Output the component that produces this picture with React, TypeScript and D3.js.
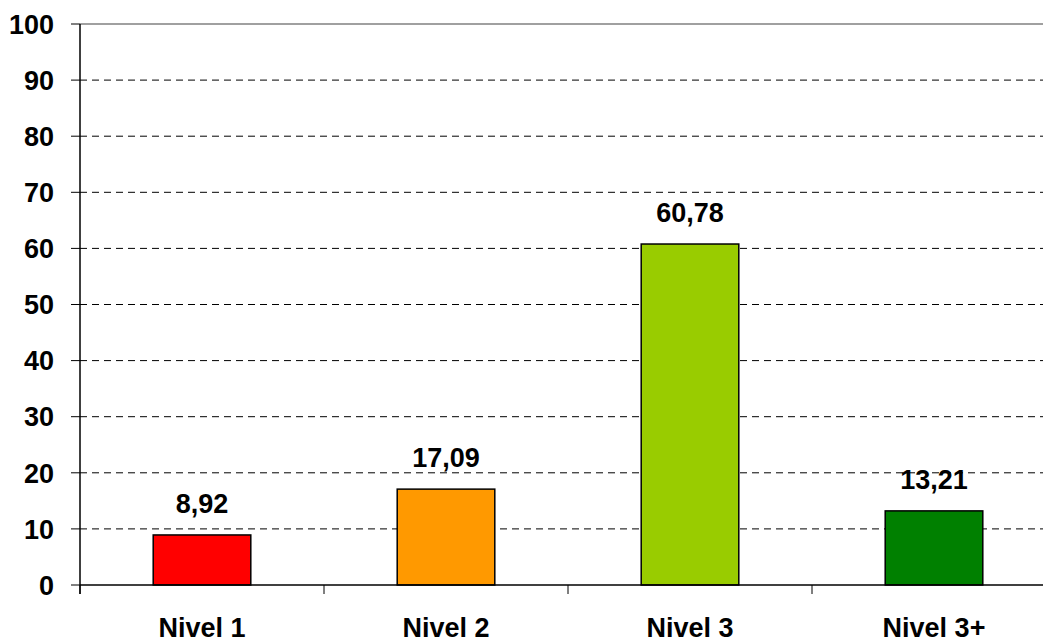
import React from "react";
import * as d3 from "d3";

const categories = ["Nivel 1", "Nivel 2", "Nivel 3", "Nivel 3+"];
const values = [8.92, 17.09, 60.78, 13.21];
const valueLabels = ["8,92", "17,09", "60,78", "13,21"];
const colors = ["#FF0000", "#FF9900", "#99CC00", "#008000"];
const yTicks = [0, 10, 20, 30, 40, 50, 60, 70, 80, 90, 100];

const W = 1043;
const H = 640;
const left = 80;
const right = 1056;
const top = 24;
const bottom = 585;
const FONT = "Arial, 'Liberation Sans', sans-serif";

export default function App() {
  const x = d3.scaleBand<string>().domain(categories).range([left, right]).padding(0);
  const y = d3.scaleLinear().domain([0, 100]).range([bottom, top]);
  const bw = x.bandwidth();
  const barW = bw * 0.4;

  return (
    <svg
      width={W}
      height={H}
      style={{ position: "absolute", left: 0, top: 0, display: "block", background: "#fff" }}
    >
      {yTicks.map((t) =>
        t === 0 ? null : (
          <line
            key={"g" + t}
            x1={left}
            x2={W}
            y1={y(t)}
            y2={y(t)}
            stroke={t === 100 ? "#a0a0a0" : "#000"}
            strokeWidth={t === 100 ? 2 : 1}
            strokeDasharray={t === 100 ? undefined : "7,5"}
          />
        )
      )}
      {yTicks.map((t) => (
        <g key={"t" + t}>
          <line x1={71} x2={left} y1={y(t)} y2={y(t)} stroke="#000" strokeWidth={1} />
          <text
            x={54}
            y={y(t)}
            dy="0.36em"
            textAnchor="end"
            fontFamily={FONT}
            fontWeight="bold"
            fontSize={27}
            fill="#000"
          >
            {t}
          </text>
        </g>
      ))}
      {categories.map((c, i) => {
        const cx = (x(c) as number) + bw / 2;
        return (
          <g key={c}>
            <rect
              x={cx - barW / 2}
              y={y(values[i])}
              width={barW}
              height={bottom - y(values[i])}
              fill={colors[i]}
              stroke="#000"
              strokeWidth={1.5}
            />
            <text
              x={cx}
              y={y(values[i]) - 22}
              textAnchor="middle"
              fontFamily={FONT}
              fontWeight="bold"
              fontSize={27}
              fill="#000"
            >
              {valueLabels[i]}
            </text>
            <text
              x={cx}
              y={637}
              textAnchor="middle"
              fontFamily={FONT}
              fontWeight="bold"
              fontSize={27}
              fill="#000"
            >
              {c}
            </text>
          </g>
        );
      })}
      {categories.map((c) => (
        <line
          key={"xt" + c}
          x1={x(c) as number}
          x2={x(c) as number}
          y1={bottom}
          y2={bottom + 9}
          stroke="#000"
          strokeWidth={1}
        />
      ))}
      <line x1={left} x2={W} y1={bottom} y2={bottom} stroke="#000" strokeWidth={1.5} />
      <line x1={left} x2={left} y1={top} y2={bottom + 9} stroke="#000" strokeWidth={1.5} />
    </svg>
  );
}
